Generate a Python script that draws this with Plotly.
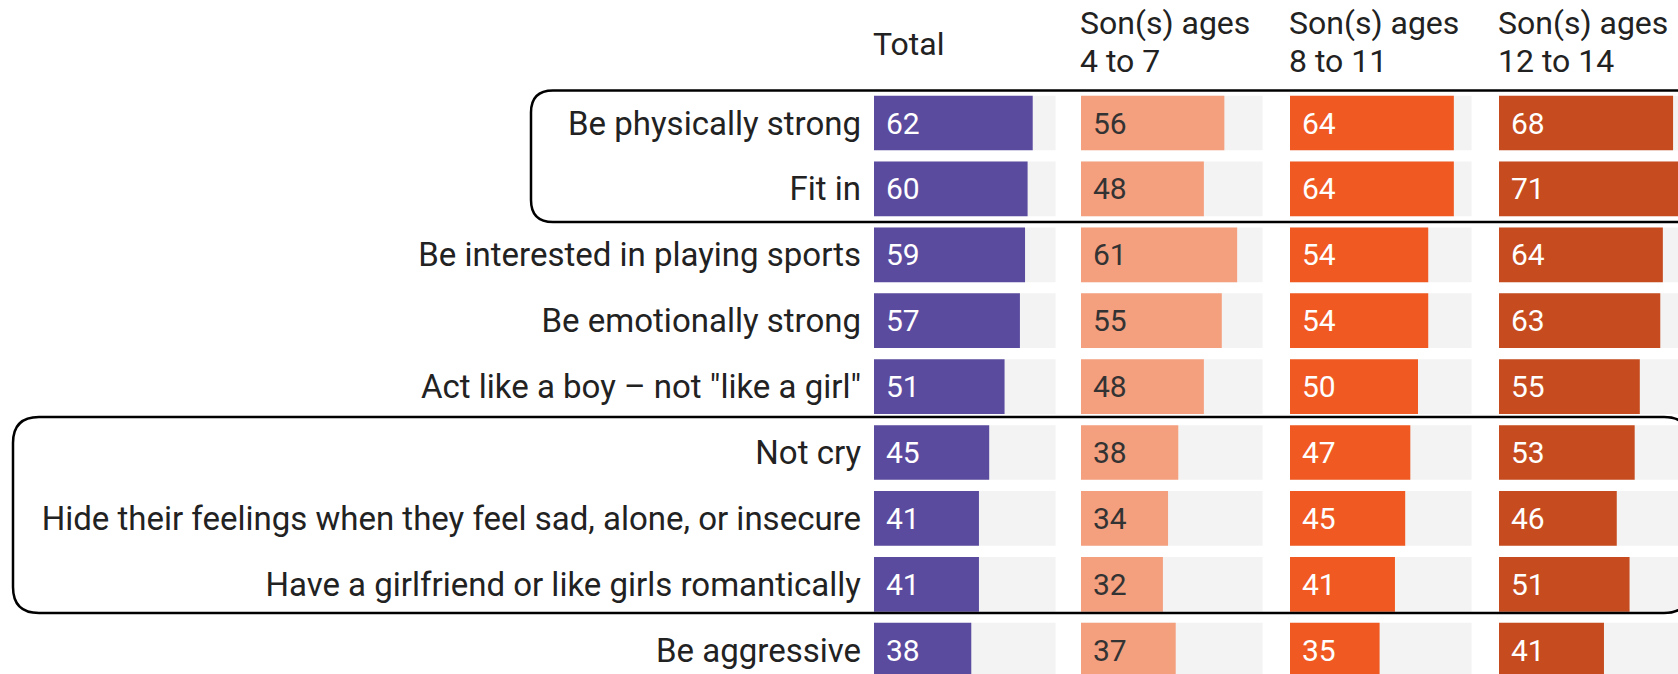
import plotly.graph_objects as go

# ---- data ----
labels = [
    "Be physically strong",
    "Fit in",
    "Be interested in playing sports",
    "Be emotionally strong",
    "Act like a boy \u2013 not \"like a girl\"",
    "Not cry",
    "Hide their feelings when they feel sad, alone, or insecure",
    "Have a girlfriend or like girls romantically",
    "Be aggressive",
]
total = [62, 60, 59, 57, 51, 45, 41, 41, 38]
ages_4_7 = [56, 48, 61, 55, 48, 38, 34, 32, 37]
ages_8_11 = [64, 64, 54, 54, 50, 47, 45, 41, 35]
ages_12_14 = [68, 71, 64, 63, 55, 53, 46, 51, 41]
headers = [["Total"], ["Son(s) ages", "4 to 7"], ["Son(s) ages", "8 to 11"], ["Son(s) ages", "12 to 14"]]
track_max = 71

series = [total, ages_4_7, ages_8_11, ages_12_14]
colors = ["#5B4B9F", "#F4A07F", "#F05A22", "#C64B1E"]
text_colors = ["white", "#333333", "white", "white"]

W, H = 1678, 674
px_per_unit = 2.56
col_starts = [874, 1081, 1290, 1499]

FONT = "Roboto, Arial, sans-serif"

fig = go.Figure()
layout_axes = {}
annotations = []

for i, (vals, col, tcol) in enumerate(zip(series, colors, text_colors)):
    xname = "x" if i == 0 else f"x{i+1}"
    axkey = "xaxis" if i == 0 else f"xaxis{i+1}"
    x0 = col_starts[i]
    x1 = min(x0 + track_max * px_per_unit, W)
    rng_max = (x1 - x0) / px_per_unit
    fig.add_trace(go.Bar(
        x=[track_max] * len(labels), y=labels, orientation="h",
        marker=dict(color="#F3F3F3", line=dict(width=0)),
        width=0.83, xaxis=xname, yaxis="y", hoverinfo="skip", showlegend=False,
    ))
    fig.add_trace(go.Bar(
        x=vals, y=labels, orientation="h",
        marker=dict(color=col, line=dict(width=0)),
        width=0.83, xaxis=xname, yaxis="y", showlegend=False,
    ))
    layout_axes[axkey] = dict(
        domain=[x0 / W, x1 / W], range=[0, rng_max], anchor="y",
        showgrid=False, zeroline=False, showticklabels=False, showline=False,
        fixedrange=True,
    )
    for lab, v in zip(labels, vals):
        annotations.append(dict(
            x=0, y=lab, xref=xname, yref="y", text=str(v), showarrow=False,
            xanchor="left", yanchor="middle", xshift=10,
            font=dict(family=FONT, size=30, color=tcol),
        ))
    # headers
    hdr = headers[i]
    if len(hdr) == 1:
        ys = [44]
    else:
        ys = [23, 61]
    for line, cy in zip(hdr, ys):
        annotations.append(dict(
            x=x0 / W, y=1 - cy / H, xref="paper", yref="paper", text=line,
            showarrow=False, xanchor="left", yanchor="middle", xshift=-3,
            font=dict(family=FONT, size=32, color="#222222"),
        ))

first_center, pitch = 123, 65.9
r_top = -first_center / pitch
r_bot = (H - first_center) / pitch


def rounded_box(x0, y0, x1, y1, r):
    def px(x):
        return x / W

    def py(y):
        return 1 - y / H

    return (
        f"M {px(x0 + r)},{py(y0)} L {px(x1 - r)},{py(y0)} "
        f"Q {px(x1)},{py(y0)} {px(x1)},{py(y0 + r)} "
        f"L {px(x1)},{py(y1 - r)} Q {px(x1)},{py(y1)} {px(x1 - r)},{py(y1)} "
        f"L {px(x0 + r)},{py(y1)} Q {px(x0)},{py(y1)} {px(x0)},{py(y1 - r)} "
        f"L {px(x0)},{py(y0 + r)} Q {px(x0)},{py(y0)} {px(x0 + r)},{py(y0)} Z"
    )


shapes = [
    dict(type="path", xref="paper", yref="paper",
         path=rounded_box(531, 90.5, 1705, 222, 22),
         line=dict(color="black", width=2.5), fillcolor="rgba(0,0,0,0)", layer="above"),
    dict(type="path", xref="paper", yref="paper",
         path=rounded_box(13, 417, 1690, 613, 26),
         line=dict(color="black", width=2.5), fillcolor="rgba(0,0,0,0)", layer="above"),
]

fig.update_layout(
    width=W, height=H,
    margin=dict(l=0, r=0, t=0, b=0),
    paper_bgcolor="white", plot_bgcolor="white",
    barmode="overlay",
    font=dict(family=FONT, size=32, color="#222222"),
    yaxis=dict(
        type="category", categoryorder="array", categoryarray=labels,
        range=[r_bot, r_top], domain=[0, 1], anchor="x",
        showgrid=False, zeroline=False, showline=False, ticks="",
        ticklabelstandoff=12,
        tickfont=dict(family=FONT, size=33, color="#222222"),
        fixedrange=True,
    ),
    annotations=annotations,
    shapes=shapes,
    **layout_axes,
)

fig.write_html(
    "out.html",
    config={"displayModeBar": False},
    post_script="document.body.style.margin='0';document.body.style.overflow='hidden';",
)
